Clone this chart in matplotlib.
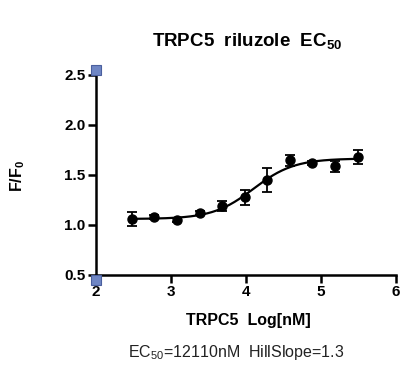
import numpy as np
import matplotlib
matplotlib.use("Agg")
import matplotlib.pyplot as plt
import matplotlib.transforms as mtransforms

# ---- data ----
log_conc = [2.477, 2.778, 3.079, 3.380, 3.681, 3.982, 4.283, 4.584, 4.885, 5.186, 5.487]
response = [1.063, 1.077, 1.050, 1.117, 1.193, 1.277, 1.450, 1.650, 1.623, 1.590, 1.677]
resp_err = [0.070, 0.020, 0.020, 0.020, 0.050, 0.075, 0.120, 0.055, 0.020, 0.055, 0.070]

# fitted 4-parameter logistic curve parameters (as read from the drawn fit)
fit_bottom = 1.06
fit_top = 1.665
fit_logec50 = 4.10
fit_hill = 1.6

x_ticks = [2, 3, 4, 5, 6]
y_ticks = [0.5, 1.0, 1.5, 2.0, 2.5]
x_ticklabels = ["2", "3", "4", "5", "6"]
y_ticklabels = ["0.5", "1.0", "1.5", "2.0", "2.5"]

title = "TRPC5  riluzole  EC$_{\\mathbf{50}}$"
xlabel = "TRPC5  Log[nM]"
ylabel = "F/F$_\\mathbf{0}$"
note = "EC$_{50}$=12110nM  HillSlope=1.3"

plt.rcParams['font.family'] = ['Liberation Sans', 'DejaVu Sans']
plt.rcParams['mathtext.fontset'] = 'custom'
plt.rcParams['mathtext.rm'] = 'Liberation Sans'
plt.rcParams['mathtext.bf'] = 'Liberation Sans:bold'

fig = plt.figure(figsize=(4.11, 3.74), dpi=100)
ax = fig.add_axes([96/411, 1-275/374, 300/411, 200/374])

xs = np.linspace(log_conc[0], log_conc[-1], 300)
ys = fit_bottom + (fit_top - fit_bottom) / (1 + 10 ** (fit_hill * (fit_logec50 - xs)))
ax.plot(xs, ys, color='black', lw=1.6, zorder=2)

ax.errorbar(log_conc, response, yerr=resp_err, fmt='o', color='black',
            markersize=6.5, capsize=3.5, elinewidth=1.3, capthick=1.3, zorder=3)

ax.set_xlim(2, 6)
ax.set_ylim(0.5, 2.5)
ax.set_xticks(x_ticks)
ax.set_xticklabels(x_ticklabels)
ax.set_yticks(y_ticks)
ax.set_yticklabels(y_ticklabels)
for s in ['top', 'right']:
    ax.spines[s].set_visible(False)
for s in ['left', 'bottom']:
    ax.spines[s].set_linewidth(1.8)
ax.tick_params(axis='both', width=1.8, length=5.5, labelsize=11, pad=2)
for lab in ax.get_xticklabels() + ax.get_yticklabels():
    lab.set_fontweight('bold')

# blue selection handles at axis corners
for (yy, dy) in [(2.5, 5), (0.5, -5)]:
    tr = mtransforms.offset_copy(ax.transData, fig=fig, x=0, y=dy * 0.72, units='points')
    ax.plot([2], [yy], marker='s', markersize=7.5, markerfacecolor='#6f86c4',
            markeredgecolor='#4a5f9e', markeredgewidth=0.8, transform=tr,
            clip_on=False, zorder=5)

fig.text(247/411, 1-42/374, title, ha='center', va='center', fontsize=13.5, fontweight='bold')
fig.text(248/411, 1-320/374, xlabel, ha='center', va='center', fontsize=11.5, fontweight='bold')
fig.text(18/411, 1-176/374, ylabel, ha='center', va='center', fontsize=11.5, fontweight='bold', rotation=90)
fig.text(128/411, 1-353/374, note, ha='left', va='center', fontsize=11.5, color='#222222')

fig.savefig('out.png', dpi=100)
